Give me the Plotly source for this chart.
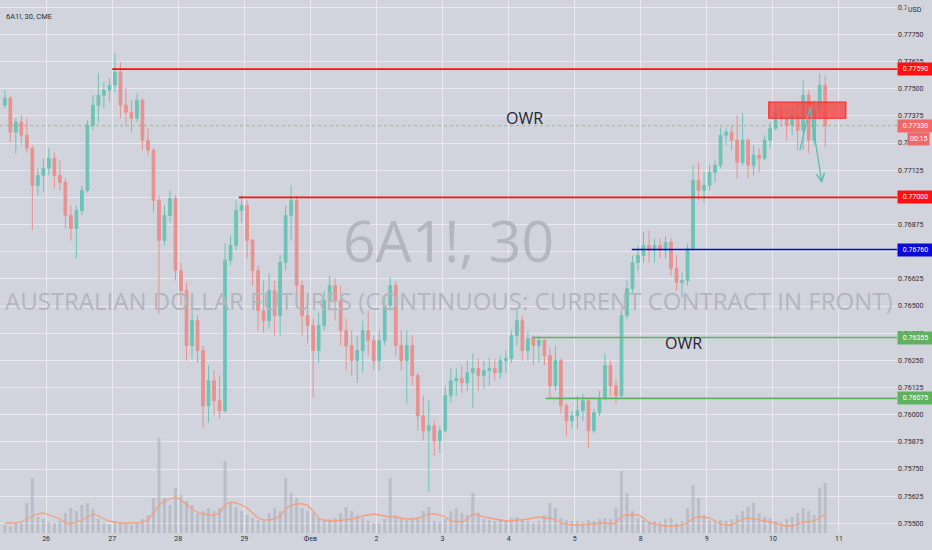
import pandas as pd
import plotly.graph_objects as go

# 6A1! 2-hour bars, 25 Jan - 10 Feb 2021
opens = [0.77424, 0.77456, 0.773, 0.77346, 0.77286, 0.77226, 0.77055, 0.77101, 0.77134, 0.7718,
         0.77101, 0.77069, 0.76917, 0.76857, 0.7694, 0.77032, 0.77332, 0.77424, 0.7747, 0.77493,
         0.77516, 0.77576, 0.77424, 0.77392, 0.77364, 0.77447, 0.77263, 0.77217, 0.76986, 0.76802,
         0.76917, 0.76995, 0.76663, 0.76571, 0.76318, 0.76433, 0.76295, 0.76041, 0.76156, 0.76064,
         0.76018, 0.7671, 0.76779, 0.7694, 0.76963, 0.76802, 0.76663, 0.76479, 0.76433, 0.76571,
         0.76456, 0.767, 0.76917, 0.76986, 0.76594, 0.76456, 0.7641, 0.76295, 0.7641, 0.76525,
         0.76594, 0.76525, 0.76387, 0.76318, 0.76249, 0.76295, 0.76387, 0.76341, 0.76249, 0.76341,
         0.76502, 0.76594, 0.76318, 0.76249, 0.76318, 0.7618, 0.75995, 0.75926, 0.75949, 0.7588,
         0.75926, 0.76087, 0.76156, 0.76166, 0.76147, 0.76193, 0.76212, 0.7618, 0.76203, 0.76212,
         0.76193, 0.76249, 0.76258, 0.76364, 0.76433, 0.76295, 0.7635, 0.76318, 0.76341, 0.76272,
         0.76133, 0.76249, 0.76041, 0.75972, 0.75995, 0.76018, 0.76064, 0.75926, 0.76009, 0.76073,
         0.76226, 0.76133, 0.76087, 0.76456, 0.7658, 0.767, 0.76733, 0.76779, 0.76756, 0.76779,
         0.76756, 0.76793, 0.76673, 0.76608, 0.76617, 0.76765, 0.77078, 0.77032, 0.77055, 0.77115,
         0.77148, 0.77286, 0.773, 0.77263, 0.77161, 0.77263, 0.77148, 0.77194, 0.7718, 0.77263,
         0.77318, 0.77392, 0.77364, 0.77332, 0.77378, 0.77309, 0.7747, 0.77263, 0.77401, 0.77516]
highs = [0.77493, 0.77466, 0.77364, 0.77378, 0.77364, 0.7724, 0.77134, 0.7718, 0.77226, 0.77207,
         0.77171, 0.77088, 0.76963, 0.76963, 0.77055, 0.77355, 0.7747, 0.77572, 0.7753, 0.77549,
         0.77664, 0.77622, 0.77503, 0.77447, 0.77479, 0.77456, 0.77318, 0.77226, 0.77009, 0.76963,
         0.77032, 0.77009, 0.767, 0.76608, 0.76525, 0.76456, 0.76318, 0.76226, 0.76203, 0.7618,
         0.76788, 0.76825, 0.76986, 0.77009, 0.76986, 0.76811, 0.76687, 0.76617, 0.7665, 0.76617,
         0.76733, 0.76963, 0.77055, 0.77009, 0.76617, 0.76548, 0.76442, 0.7647, 0.76571, 0.7664,
         0.76627, 0.76594, 0.76442, 0.76387, 0.76364, 0.76433, 0.76479, 0.76364, 0.76387, 0.76548,
         0.76631, 0.76617, 0.76387, 0.76387, 0.76364, 0.76193, 0.76087, 0.76064, 0.75972, 0.75949,
         0.76133, 0.76212, 0.76212, 0.76226, 0.76249, 0.76281, 0.76258, 0.76249, 0.76262, 0.76258,
         0.76272, 0.76295, 0.76387, 0.76493, 0.76456, 0.76387, 0.76364, 0.76364, 0.7635, 0.76309,
         0.76318, 0.76258, 0.76055, 0.76018, 0.76087, 0.76096, 0.76073, 0.76027, 0.7611, 0.76281,
         0.76249, 0.76166, 0.76488, 0.76617, 0.76733, 0.76779, 0.76839, 0.76848, 0.76811, 0.76811,
         0.7682, 0.76811, 0.76733, 0.76654, 0.76788, 0.77148, 0.77161, 0.77115, 0.77148, 0.77171,
         0.77323, 0.77318, 0.77332, 0.77378, 0.77387, 0.77272, 0.7724, 0.77226, 0.77286, 0.77346,
         0.77433, 0.77424, 0.7741, 0.77401, 0.77433, 0.77539, 0.77493, 0.77447, 0.77572, 0.77562]
lows = [0.7741, 0.77254, 0.77203, 0.7724, 0.77207, 0.76848, 0.77009, 0.77023, 0.77101, 0.77041,
        0.77032, 0.76857, 0.76802, 0.76719, 0.76917, 0.77023, 0.77309, 0.77346, 0.7741, 0.77438,
        0.77484, 0.77364, 0.77332, 0.773, 0.77346, 0.77217, 0.77194, 0.76931, 0.76465, 0.76779,
        0.76885, 0.76617, 0.76502, 0.76249, 0.76258, 0.76239, 0.7594, 0.75963, 0.75995, 0.75981,
        0.76009, 0.76687, 0.76756, 0.76885, 0.76719, 0.76594, 0.76387, 0.76378, 0.76396, 0.76364,
        0.76364, 0.76663, 0.76802, 0.76511, 0.76364, 0.76327, 0.76078, 0.76239, 0.76387, 0.76479,
        0.76433, 0.76318, 0.76203, 0.7618, 0.76147, 0.76193, 0.76272, 0.76203, 0.76203, 0.76318,
        0.76479, 0.76272, 0.76203, 0.7605, 0.76133, 0.75926, 0.7588, 0.75649, 0.75811, 0.75824,
        0.75917, 0.76055, 0.76087, 0.76101, 0.7611, 0.76032, 0.7611, 0.76119, 0.76133, 0.76156,
        0.76166, 0.76193, 0.76239, 0.76318, 0.76249, 0.76249, 0.76226, 0.76239, 0.76226, 0.76078,
        0.7611, 0.76004, 0.75903, 0.75935, 0.75935, 0.75972, 0.75848, 0.75917, 0.75995, 0.76064,
        0.76087, 0.7605, 0.76073, 0.76442, 0.76562, 0.76663, 0.767, 0.767, 0.767, 0.76719,
        0.76719, 0.7664, 0.76571, 0.76539, 0.76594, 0.76756, 0.76986, 0.76977, 0.77032, 0.77069,
        0.77134, 0.7724, 0.77217, 0.77088, 0.77148, 0.77088, 0.77101, 0.77115, 0.77171, 0.77226,
        0.77309, 0.77332, 0.77263, 0.77286, 0.77217, 0.77217, 0.77203, 0.7724, 0.77355, 0.77231]
closes = [0.77456, 0.773, 0.77346, 0.77286, 0.77226, 0.77055, 0.77101, 0.77134, 0.7718, 0.77101,
          0.77069, 0.76917, 0.76857, 0.7694, 0.77032, 0.77332, 0.77424, 0.7747, 0.77493, 0.77516,
          0.77576, 0.77424, 0.77392, 0.77364, 0.77447, 0.77263, 0.77217, 0.76986, 0.76802, 0.76917,
          0.76995, 0.76663, 0.76571, 0.76318, 0.76433, 0.76295, 0.76041, 0.76156, 0.76064, 0.76018,
          0.7671, 0.76779, 0.7694, 0.76963, 0.76802, 0.76663, 0.76479, 0.76433, 0.76571, 0.76456,
          0.767, 0.76917, 0.76986, 0.76594, 0.76456, 0.7641, 0.76295, 0.7641, 0.76525, 0.76594,
          0.76525, 0.76387, 0.76318, 0.76249, 0.76295, 0.76387, 0.76341, 0.76249, 0.76341, 0.76502,
          0.76594, 0.76318, 0.76249, 0.76318, 0.7618, 0.75995, 0.75926, 0.75949, 0.7588, 0.75926,
          0.76087, 0.76156, 0.76166, 0.76147, 0.76193, 0.76212, 0.7618, 0.76203, 0.76212, 0.76193,
          0.76249, 0.76258, 0.76364, 0.76433, 0.76295, 0.7635, 0.76318, 0.76341, 0.76272, 0.76133,
          0.76249, 0.76041, 0.75972, 0.75995, 0.76018, 0.76064, 0.75926, 0.76009, 0.76073, 0.76226,
          0.76133, 0.76087, 0.76456, 0.7658, 0.767, 0.76733, 0.76779, 0.76756, 0.76779, 0.76756,
          0.76793, 0.76673, 0.76608, 0.76617, 0.76765, 0.77078, 0.77032, 0.77055, 0.77115, 0.77148,
          0.77286, 0.773, 0.77263, 0.77161, 0.77263, 0.77148, 0.77194, 0.7718, 0.77263, 0.77318,
          0.77392, 0.77364, 0.77332, 0.77378, 0.77309, 0.7747, 0.77263, 0.77401, 0.77516, 0.7733]
volumes = [800, 700, 900, 1000, 3000, 5500, 1600, 1400, 1100, 1000,
           1200, 2000, 2500, 2200, 2800, 3000, 2400, 1400, 1000, 900,
           1200, 1000, 900, 800, 1000, 1400, 1800, 3500, 9500, 3500,
           2800, 4500, 3800, 3200, 2800, 2000, 2200, 2500, 2200, 2500,
           7200, 3000, 2600, 2200, 1800, 1500, 1300, 1200, 2000, 2500,
           2200, 5500, 4000, 3500, 2500, 2200, 2000, 1500, 1300, 1400,
           1500, 2000, 2600, 2200, 1800, 1500, 1200, 1000, 1000, 1400,
           5500, 1800, 1500, 1300, 1400, 1500, 2200, 2600, 1200, 1100,
           1400, 2200, 2500, 2000, 1800, 4000, 2000, 1400, 1300, 1200,
           1400, 1200, 1500, 1600, 1400, 1200, 1000, 1200, 1800, 3000,
           2500, 1500, 1300, 1200, 1200, 1100, 1300, 1200, 1400, 1500,
           1400, 2500, 6200, 4000, 2200, 1500, 1300, 1200, 1200, 1100,
           1400, 1500, 1000, 1200, 2500, 4800, 3500, 1800, 1200, 1100,
           1300, 1200, 1400, 1800, 2200, 2600, 3000, 2000, 1600, 1500,
           1200, 1100, 1400, 1600, 2000, 2500, 2200, 1800, 4500, 5000]
vol_ma = [1000, 1000, 1000, 1100, 1400, 1700, 1900, 2000, 1800, 1600,
          1400, 1000, 900, 1100, 1300, 1600, 1900, 1700, 1400, 1200,
          1100, 1000, 1000, 1000, 1000, 1100, 1300, 2000, 2800, 3200,
          3400, 3600, 3300, 2800, 2400, 2100, 1900, 1800, 1800, 2000,
          2800, 3100, 3000, 2800, 2500, 2000, 1500, 1300, 1300, 1400,
          1700, 2400, 2800, 2900, 2900, 2800, 2200, 1500, 1300, 1200,
          1200, 1300, 1300, 1400, 1500, 1700, 1800, 1900, 1800, 1700,
          1600, 1600, 1500, 1400, 1400, 1500, 1700, 1900, 1900, 1800,
          1600, 1200, 1100, 1100, 1400, 1900, 1800, 1600, 1500, 1400,
          1300, 1200, 1200, 1300, 1300, 1400, 1500, 1600, 1500, 1500,
          1300, 1000, 900, 800, 800, 800, 900, 900, 1000, 1000,
          900, 1000, 1700, 1800, 1800, 1800, 1500, 1000, 900, 800,
          700, 700, 700, 800, 1000, 1500, 1600, 1600, 1500, 1200,
          900, 800, 800, 1100, 1400, 1500, 1400, 1300, 1200, 1100,
          1000, 800, 700, 700, 900, 1100, 1100, 1200, 1500, 1900]

day_ticks = ["2021-01-26", "2021-01-27", "2021-01-28", "2021-01-29", "2021-02-01", "2021-02-02",
             "2021-02-03", "2021-02-04", "2021-02-05", "2021-02-08", "2021-02-09", "2021-02-10",
             "2021-02-11"]
day_labels = ["26", "27", "28", "29", "Фев", "2", "3", "4", "5", "8", "9", "10", "11"]

# drawn levels: price, start time, colour
levels = [0.7759, 0.77, 0.7676, 0.76355, 0.76075]
level_starts = ["2021-01-27 00:00", "2021-01-28 22:00", "2021-02-05 20:45",
                "2021-02-04 08:20", "2021-02-04 13:30"]
level_colors = ["#ff1010", "#ff1010", "#0a0ad8", "#5fb35f", "#5fb35f"]
last_price = 0.7733

times = pd.date_range("2021-01-25 09:00", "2021-02-10 19:00", freq="2h")
times = times[times.dayofweek < 5]

x_start = "2021-01-25 07:15"
x_end = "2021-02-11 21:05"

BG = "#d1d4dc"
UP = "#6cc3b7"
DOWN = "#e8928f"

fig = go.Figure()
fig.add_trace(go.Bar(x=times, y=volumes, marker_color="rgba(150,155,168,0.38)",
                     marker_line_width=0, yaxis="y2", width=4.0e6, showlegend=False))
fig.add_trace(go.Scatter(x=times, y=vol_ma, mode="lines", yaxis="y2",
                         line=dict(color="#f4a07f", width=1.3), showlegend=False))
fig.add_trace(go.Candlestick(x=times, open=opens, high=highs, low=lows, close=closes,
                             increasing=dict(line=dict(color=UP, width=1), fillcolor=UP),
                             decreasing=dict(line=dict(color=DOWN, width=1), fillcolor=DOWN),
                             whiskerwidth=0, showlegend=False))

# levels
for price, start, color in zip(levels, level_starts, level_colors):
    fig.add_shape(type="line", x0=start, x1=x_end, y0=price, y1=price,
                  line=dict(color=color, width=1.6))
    fig.add_annotation(x=1, xref="paper", xanchor="left", y=price, yref="y",
                       text="%.5f" % price, showarrow=False, bgcolor=color,
                       font=dict(size=7, color="white", family="Roboto"),
                       width=31, borderpad=2)

# current price line
fig.add_shape(type="line", x0=x_start, x1=x_end, y0=last_price, y1=last_price,
              line=dict(color="rgba(235,100,100,0.55)", width=1, dash="dot"))
fig.add_annotation(x=1, xref="paper", xanchor="left", y=last_price, yref="y",
                   text="%.5f" % last_price, showarrow=False, bgcolor="#f06868",
                   font=dict(size=7, color="white", family="Roboto"), width=31, borderpad=2)
fig.add_annotation(x=1, xref="paper", xanchor="left", xshift=10, y=0.77267, yref="y",
                   text="00:15", showarrow=False, bgcolor="#f06868",
                   font=dict(size=7, color="white", family="Roboto"), borderpad=2)

# supply box and expected move
fig.add_shape(type="rect", x0="2021-02-09 22:30", x1="2021-02-11 02:30", y0=0.77364, y1=0.77438,
              fillcolor="rgba(242,70,70,0.8)", line=dict(color="#ff2a2a", width=1.2))
fig.add_shape(type="line", x0="2021-02-10 09:50", x1="2021-02-10 13:30", y0=0.77217, y1=0.77415,
              line=dict(color="#5cbdb4", width=1.3))
fig.add_annotation(x="2021-02-10 17:50", y=0.77065, ax="2021-02-10 13:30", ay=0.77415,
                   axref="x", ayref="y", text="", showarrow=True, arrowhead=5,
                   arrowsize=1.2, arrowwidth=1.3, arrowcolor="#5cbdb4")

# text
fig.add_annotation(x=0.5, xref="paper", y=0.55, yref="paper", text="6A1!, 30",
                   showarrow=False, font=dict(size=57, color="#b3b6bf", family="Open Sans"))
fig.add_annotation(x=0.5, xref="paper", y=0.437, yref="paper",
                   text="AUSTRALIAN DOLLAR FUTURES (CONTINUOUS: CURRENT CONTRACT IN FRONT)",
                   showarrow=False, font=dict(size=24, color="#b3b6bf", family="Open Sans"))
fig.add_annotation(x="2021-02-04 05:50", y=0.77364, text="OWR", showarrow=False,
                   font=dict(size=16, color="#1f2633", family="Open Sans"))
fig.add_annotation(x="2021-02-08 15:40", y=0.76332, text="OWR", showarrow=False,
                   font=dict(size=16, color="#1f2633", family="Open Sans"))
fig.add_annotation(x=0.005, xref="paper", xanchor="left", y=0.982, yref="paper",
                   text="6A1!, 30, CME", showarrow=False,
                   font=dict(size=7.5, color="#2a2e39", family="Roboto"))
fig.add_annotation(x=1, xref="paper", xanchor="left", xshift=9, y=0.9925, yref="paper",
                   text="USD", showarrow=False, bgcolor=BG, borderpad=1,
                   font=dict(size=7, color="#2a2e39", family="Roboto"))

fig.update_layout(
    width=932, height=550,
    margin=dict(l=0, r=35, t=0, b=17),
    paper_bgcolor=BG, plot_bgcolor=BG,
    xaxis=dict(type="date", range=[x_start, x_end], rangeslider=dict(visible=False),
               rangebreaks=[dict(bounds=["sat", "mon"])],
               tickvals=day_ticks, ticktext=day_labels,
               tickfont=dict(size=7, color="#2a2e39", family="Roboto"),
               showgrid=True, gridcolor="rgba(238,240,246,0.75)", gridwidth=1,
               zeroline=False, showline=False),
    yaxis=dict(side="right", range=[0.754556, 0.779082], dtick=0.00125, tick0=0.755,
               tickformat=".5f", tickfont=dict(size=7, color="#2a2e39", family="Roboto"),
               showgrid=True, gridcolor="rgba(238,240,246,0.75)", gridwidth=1,
               zeroline=False, showline=False),
    yaxis2=dict(overlaying="y", range=[0, 53300], visible=False),
    bargap=0.3,
)

# page body has a default 8px margin; drop it so the chart sits at the window origin
fig.write_html("out.html", config={"displayModeBar": False},
               post_script="document.body.style.margin='0px';")
